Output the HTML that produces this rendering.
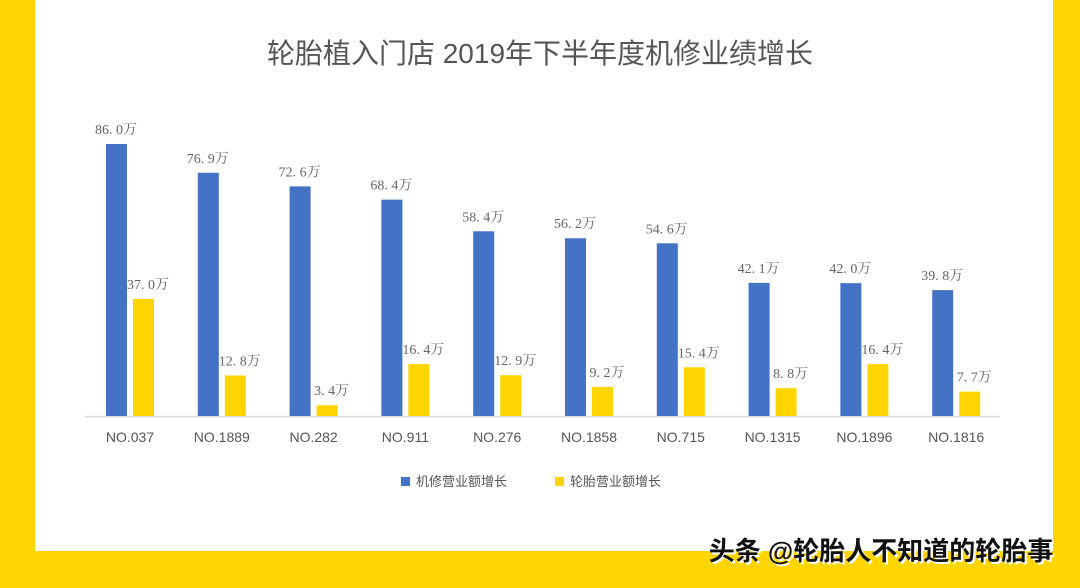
<!DOCTYPE html>
<html><head><meta charset="utf-8"><style>
body{margin:0;width:1080px;height:583px;overflow:hidden;background:#FFD500;}
</style></head><body>
<svg width="1080" height="583" xmlns="http://www.w3.org/2000/svg">
<rect x="0" y="0" width="1080" height="583" fill="#FFD500"/>
<rect x="35" y="0" width="1018" height="551" fill="#fff"/>
<text x="540" y="63" text-anchor="middle" font-family="Liberation Sans,'Noto Sans CJK SC',sans-serif" font-size="28" fill="#555">轮胎植入门店 2019年下半年度机修业绩增长</text>
<line x1="85" y1="416.5" x2="1000" y2="416.5" stroke="#d9d9d9" stroke-width="1.5"/>
<g id="bars" font-family="Liberation Serif,'Noto Serif CJK SC',serif" font-size="14" fill="#666">
</g>
<g font-family="Liberation Sans,'Noto Sans CJK SC',sans-serif" font-size="13" fill="#555">
<rect x="401" y="477" width="9" height="9" fill="#4472C4"/>
<text x="416" y="486">机修营业额增长</text>
<rect x="555" y="477" width="9" height="9" fill="#FFD500"/>
<text x="570" y="486">轮胎营业额增长</text>
</g>
<g font-family="Liberation Sans,'Noto Sans CJK SC',sans-serif" font-size="26" font-weight="bold" text-anchor="middle">
<text x="883" y="562" fill="#fff">头条 @轮胎人不知道的轮胎事</text>
<text x="881" y="560" fill="#111">头条 @轮胎人不知道的轮胎事</text>
</g>
</svg>
<script>
var b=[86.0,76.9,72.6,68.4,58.4,56.2,54.6,42.1,42.0,39.8],y=[37.0,12.8,3.4,16.4,12.9,9.2,15.4,8.8,16.4,7.7],
n=["NO.037","NO.1889","NO.282","NO.911","NO.276","NO.1858","NO.715","NO.1315","NO.1896","NO.1816"];
var g=document.getElementById("bars"),s="",k=3.163,base=416;
for(var i=0;i<10;i++){var x=106+i*91.8;
var hb=b[i]*k,hy=y[i]*k;
s+='<rect x="'+x+'" y="'+(base-hb)+'" width="21" height="'+hb+'" fill="#4472C4"/>';
s+='<rect x="'+(x+27)+'" y="'+(base-hy)+'" width="21" height="'+hy+'" fill="#FFD500"/>';
s+='<text x="'+(x+10)+'" y="'+(base-hb-10)+'" text-anchor="middle">'+b[i].toFixed(1).replace(".",". ")+'万</text>';
s+='<text x="'+(x+42)+'" y="'+(base-hy-10)+'" text-anchor="middle">'+y[i].toFixed(1).replace(".",". ")+'万</text>';
s+='<text x="'+(x+24)+'" y="442" text-anchor="middle" font-family="Liberation Sans,sans-serif" font-size="14" fill="#555">'+n[i]+'</text>';}
g.innerHTML=s;
</script>
</body></html>
